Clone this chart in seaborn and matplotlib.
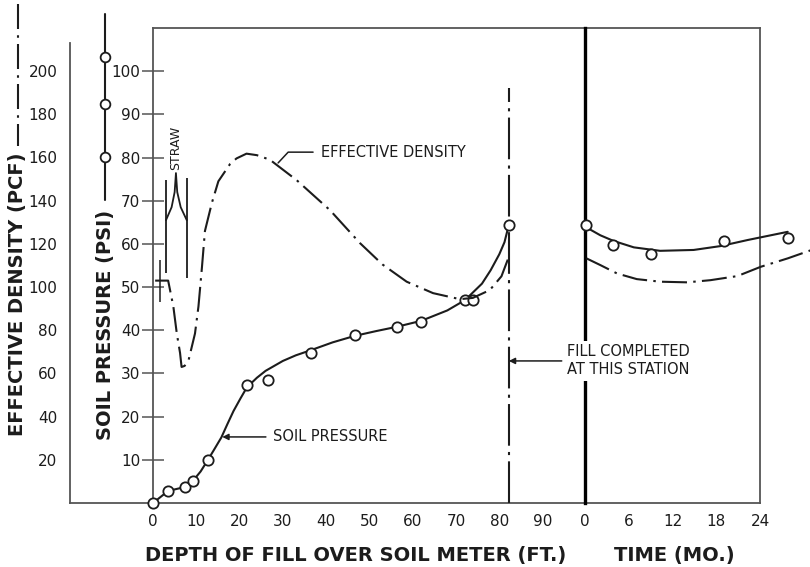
import matplotlib
matplotlib.use("Agg")
import matplotlib.pyplot as plt
from matplotlib.lines import Line2D
import seaborn as sns

# ---------------- data ----------------
# soil pressure observations during filling (depth ft, psi)
depth_obs = [0, 3.5, 7.4, 9.2, 12.7, 21.7, 26.6, 36.5, 46.6, 56.3, 61.9, 72.1, 73.9, 82.2]
psi_obs = [0, 2.8, 3.7, 5.1, 10.0, 27.3, 28.5, 34.7, 38.9, 40.7, 41.9, 47.0, 47.0, 64.4]

# fitted soil pressure curve during filling
soil_curve_depth = [0, 3.5, 7.4, 9.2, 11.0, 12.7, 14.2, 15.8, 17.2, 18.6, 20.2, 21.7, 24.0,
                    26.0, 30.0, 33.0, 36.5, 41.5, 46.6, 51.5, 56.3, 62.0, 68.0, 72.1, 76.0,
                    78.0, 80.0, 81.2, 82.2]
soil_curve_psi = [0, 2.8, 3.7, 5.1, 7.3, 10.0, 12.5, 15.2, 18.3, 21.3, 24.2, 26.8, 29.0,
                  30.6, 32.9, 34.2, 35.4, 37.2, 38.7, 39.8, 40.8, 42.2, 44.6, 47.0, 50.8,
                  53.9, 57.6, 60.4, 64.4]

# effective density curve during filling (depth ft, pcf)
dens_depth = [0.5, 3.5, 4.7, 5.5, 6.25, 6.6, 7.3, 8.2, 9.7, 10.5, 11.3, 12.0, 13.6, 15.1,
              17.8, 19.3, 21.6, 24.0, 27.0, 33.2, 40.9, 47.8, 53.0, 58.6, 64.7, 70.9, 73.9,
              77.8, 80.5, 82.2]
dens_pcf = [103, 103, 91, 78.5, 69.5, 63, 63.5, 66, 78.5, 91, 109, 126, 139, 149,
            157, 159.6, 161.8, 161.1, 159, 149.5, 135.6, 120.4, 110.5, 102.5, 97.2, 94.4, 95,
            98.6, 105, 114]

# after fill completion (time months)
time_obs = [0.1, 3.9, 9.1, 19.1, 27.9]
time_psi_obs = [64.4, 59.7, 57.6, 60.7, 61.4]
time_curve_t = [0, 2.1, 3.9, 6.7, 10.3, 14.9, 18.6, 22.3, 27.8]
time_curve_psi = [64.0, 62.0, 60.7, 59.2, 58.4, 58.6, 59.5, 60.9, 62.8]
time_dens_t = [0.2, 2.1, 4.4, 7.1, 10.3, 14.0, 17.2, 20.9, 24.1, 27.8, 31.0]
time_dens_pcf = [113.3, 110.2, 106.3, 103.7, 102.5, 102.2, 103.2, 105.1, 109.4, 113.3, 117.1]

# straw marking
straw_arm_depth = [3.0, 4.3, 5.0, 5.3, 5.6, 6.4, 7.8]
straw_arm_psi = [65.5, 68.5, 72.0, 76.4, 72.0, 68.5, 65.5]
straw_bar_depth = [3.0, 7.8]
straw_bar_low = [53.2, 52.2]
straw_bar_high = [74.8, 75.2]
straw_tick_depth = 1.6
straw_tick_range = [46.5, 56.2]

fill_depth = 82.2
fill_line_top = 96.0

depth_ticks = [0, 10, 20, 30, 40, 50, 60, 70, 80, 90]
time_ticks = [0, 6, 12, 18, 24]
psi_ticks = [10, 20, 30, 40, 50, 60, 70, 80, 90, 100]
pcf_ticks = [20, 40, 60, 80, 100, 120, 140, 160, 180, 200]

# ---------------- style ----------------
sns.set_style("white")
plt.rcParams['font.family'] = ['DejaVu Sans']

INK = '#1c1c1c'
FRAME = '#555555'
DASHDOT = (0, (12, 3, 1.2, 3))
LW = 1.5

W, H = 810, 567
fig = plt.figure(figsize=(W / 100, H / 100), dpi=100)
fig.patch.set_facecolor('white')


def box(l, b, r, t):
    return [l / W, 1 - b / H, (r - l) / W, (b - t) / H]


ax_d = fig.add_axes(box(70, 503, 153, 43))
ax1 = fig.add_axes(box(153, 503, 585, 28))
ax2 = fig.add_axes(box(585, 503, 760, 28))
for a in (ax_d, ax1, ax2):
    a.patch.set_alpha(0)

# density axis
ax_d.set_xlim(0, 1)
ax_d.set_ylim(0, 213)
for s in ('top', 'right'):
    ax_d.spines[s].set_visible(False)
for s in ('left', 'bottom'):
    ax_d.spines[s].set_color(FRAME)
    ax_d.spines[s].set_linewidth(1.3)
ax_d.set_xticks([])
ax_d.set_yticks(pcf_ticks)
ax_d.set_yticklabels([str(v) for v in pcf_ticks])
ax_d.tick_params(axis='y', direction='inout', length=16, width=1.1, color=FRAME,
                 labelsize=11, labelcolor=INK, pad=1)

# depth axes
ax1.set_xlim(0, 99.8)
ax1.set_ylim(0, 110)
ax1.spines['right'].set_visible(False)
for s in ('left', 'top', 'bottom'):
    ax1.spines[s].set_color(FRAME)
    ax1.spines[s].set_linewidth(1.3)
ax1.set_xticks(depth_ticks)
ax1.set_xticklabels([str(v) for v in depth_ticks])
ax1.set_yticks(psi_ticks)
ax1.set_yticklabels([str(v) for v in psi_ticks])
ax1.tick_params(axis='x', direction='in', length=14.5, width=1.1, color=INK,
                labelsize=11, labelcolor=INK, pad=8)
ax1.tick_params(axis='y', direction='inout', length=16, width=1.1, color=FRAME,
                labelsize=11, labelcolor=INK, pad=1)

# time axes
ax2.set_xlim(0, 24)
ax2.set_ylim(0, 110)
ax2.spines['left'].set_color('black')
ax2.spines['left'].set_linewidth(2.4)
for s in ('right', 'top', 'bottom'):
    ax2.spines[s].set_color(FRAME)
    ax2.spines[s].set_linewidth(1.3)
ax2.spines['left'].set_zorder(2.6)
ax2.set_xticks(time_ticks)
ax2.set_xticklabels([str(v) for v in time_ticks])
ax2.set_yticks([])
ax2.tick_params(axis='x', direction='in', length=14.5, width=1.1, color=INK,
                labelsize=11, labelcolor=INK, pad=8)

# density twins
ax1d = ax1.twinx()
ax1d.set_ylim(0, 220)
ax1d.set_axis_off()
ax2d = ax2.twinx()
ax2d.set_ylim(0, 220)
ax2d.set_axis_off()

# ---------------- curves ----------------
sns.lineplot(x=soil_curve_depth, y=soil_curve_psi, ax=ax1, color=INK, lw=LW, zorder=3)
sns.scatterplot(x=depth_obs, y=psi_obs, ax=ax1, marker='o', s=55, color='white',
                edgecolor=INK, linewidth=1.3, zorder=5, clip_on=False)
sns.lineplot(x=dens_depth, y=dens_pcf, ax=ax1d, color=INK, lw=LW, linestyle=DASHDOT, zorder=3)

sns.lineplot(x=time_curve_t, y=time_curve_psi, ax=ax2, color=INK, lw=LW, zorder=3, clip_on=False)
sns.scatterplot(x=time_obs, y=time_psi_obs, ax=ax2, marker='o', s=55, color='white',
                edgecolor=INK, linewidth=1.3, zorder=5, clip_on=False)
sns.lineplot(x=time_dens_t, y=time_dens_pcf, ax=ax2d, color=INK, lw=LW, linestyle=DASHDOT,
             zorder=3, clip_on=False)

# fill completed line
ax1.vlines(fill_depth, 0, fill_line_top, colors=INK, linewidth=1.5,
           linestyles=[(0, (20, 3, 1.5, 3))], zorder=3)

# straw marks
ax1.plot(straw_arm_depth, straw_arm_psi, color=INK, lw=1.3)
ax1.vlines(straw_bar_depth, straw_bar_low, straw_bar_high, colors=INK, linewidth=1.3)
ax1.vlines(straw_tick_depth, straw_tick_range[0], straw_tick_range[1], colors=INK, linewidth=1.1)
ax1.text(5.3, 82.2, "STRAW", rotation=90, ha='center', va='center', fontsize=9, color=INK)

# ---------------- annotations ----------------
ax1.annotate("SOIL PRESSURE", xy=(16.0, 15.3), xytext=(27.8, 15.3), ha='left', va='center',
             fontsize=10.5, color=INK,
             arrowprops=dict(arrowstyle='-|>', color=INK, lw=1.1, mutation_scale=9,
                             shrinkA=3, shrinkB=0))
ax1d.annotate("EFFECTIVE DENSITY", xy=(28.9, 157.5), xytext=(38.7, 162.5), ha='left',
              va='center', fontsize=10.5, color=INK,
              arrowprops=dict(arrowstyle='-', color=INK, lw=1.1, shrinkA=3, shrinkB=0,
                              connectionstyle="angle,angleA=0,angleB=47,rad=0"))
ax2.annotate("FILL COMPLETED\nAT THIS STATION", xy=(fill_depth, 32.9), xycoords=ax1.transData,
             xytext=(-2.5, 32.9), textcoords='data', ha='left', va='center',
             fontsize=10.5, color=INK, linespacing=1.25, annotation_clip=False, zorder=6,
             bbox=dict(boxstyle='square,pad=0.25', fc='white', ec='none'),
             arrowprops=dict(arrowstyle='-|>', color=INK, lw=1.1, mutation_scale=9,
                             shrinkA=1, shrinkB=0))

# ---------------- axis titles & legend keys ----------------
fig.text(356 / W, 1 - 555 / H, "DEPTH OF FILL OVER SOIL METER (FT.)", ha='center', va='center',
         fontsize=14, fontweight='bold', color=INK)
fig.text(674 / W, 1 - 555 / H, "TIME (MO.)", ha='center', va='center',
         fontsize=14, fontweight='bold', color=INK)
fig.text(17.5 / W, 1 - 294 / H, "EFFECTIVE DENSITY (PCF)", rotation=90, ha='center',
         va='center', fontsize=14, fontweight='bold', color=INK)
fig.text(106 / W, 1 - 325 / H, "SOIL PRESSURE (PSI)", rotation=90, ha='center',
         va='center', fontsize=14, fontweight='bold', color=INK)

fig.add_artist(Line2D([18 / W, 18 / W], [1 - 4 / H, 1 - 146 / H], color=INK, lw=LW,
                      linestyle=DASHDOT, transform=fig.transFigure))
fig.add_artist(Line2D([105 / W, 105 / W], [1 - 14 / H, 1 - 200 / H], color=INK, lw=LW,
                      transform=fig.transFigure))
fig.add_artist(Line2D([105 / W] * 3, [1 - 57 / H, 1 - 104 / H, 1 - 157 / H], linestyle='none',
                      marker='o', ms=7, mfc='white', mec=INK, mew=1.3,
                      transform=fig.transFigure))

fig.savefig("out.png", dpi=100, facecolor='white')
